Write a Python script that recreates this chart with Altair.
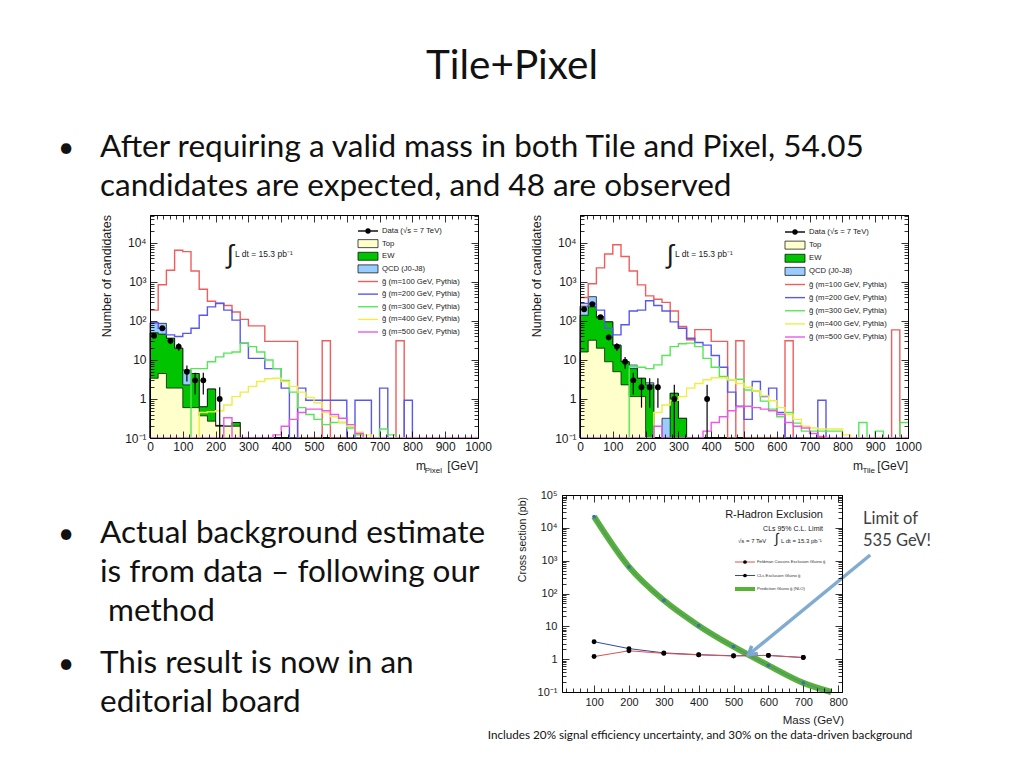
import altair as alt
import pandas as pd

W, H = 1008, 752
FLOOR = 0.05  # empty bins: below the axis floor, clamped to the frame

# ---------------- shared binning / labels ----------------
BIN_LO = list(range(0, 1000, 25))
BIN_END = 1000

SIG_LABELS = ["g̃ (m=100 GeV, Pythia)", "g̃ (m=200 GeV, Pythia)", "g̃ (m=300 GeV, Pythia)",
              "g̃ (m=400 GeV, Pythia)", "g̃ (m=500 GeV, Pythia)"]
SIG_COLORS = ["#f25c5c", "#5858ee", "#55e855", "#eeee44", "#ea5aea"]
BKG_LABELS = ["Top", "EW", "QCD (J0-J8)"]
BKG_COLORS = ["#ffffcc", "#00c400", "#99ccff"]
DATA_LABEL = "Data (√s = 7 TeV)"
LUMI = "L dt = 15.3 pb⁻¹"

# ---------------- m_Pixel panel ----------------
PIX_M100 = [190, 850, 2000, 6500, 6000, 1900, 650, 320, 280, 250,
            170, 110, 75, 75, 30, 30, 30, 30, 0, 0,
            0, 31, 0, 0, 0, 0, 0, 0, 0, 0,
            31, 0, 0, 0, 0, 0, 0, 0, 0, 0]
PIX_M200 = [90, 65, 44, 40, 48, 65, 140, 230, 285, 190,
            105, 27, 11, 11, 6, 6, 1.9, 0, 1.9, 0.93,
            0.93, 0.93, 0.93, 0.93, 0, 0.93, 0.93, 0, 1.9, 0,
            0, 0.93, 0, 0, 0, 0, 0, 0, 0, 0]
PIX_M300 = [0, 0, 0, 0, 0, 6, 6, 9, 12, 15,
            16, 27, 22, 16, 10, 6, 3, 1.5, 0.6, 0.4,
            0.3, 0.22, 0.25, 0.25, 0.18, 0.12, 0, 0, 0.17, 0.12,
            0, 0, 0, 0, 0, 0, 0, 0, 0, 0]
PIX_M400 = [0, 0, 0, 0, 0, 0, 0.45, 0.47, 0.5, 0.7,
            1.15, 1.5, 2.1, 2.8, 3.3, 3.4, 2.8, 2.1, 1.5, 1.1,
            0.8, 0.45, 0.35, 0.25, 0.2, 0.14, 0.12, 0, 0, 0,
            0, 0, 0, 0, 0, 0, 0, 0, 0, 0]
PIX_M500 = [0, 0, 0, 0, 0, 0, 0, 0, 0, 0.33,
            0, 0, 0, 0, 0.1, 0.12, 0.2, 0.3, 0.45, 0.55,
            0.55, 0.5, 0.4, 0.32, 0.22, 0.13, 0, 0, 0, 0,
            0, 0, 0, 0, 0, 0, 0, 0, 0, 0]
PIX_TOP = [3.4, 4.5, 1.9, 1.9, 0.6, 0.6, 0.37, 0.27, 0.2, 0.2,
           0.2, 0, 0, 0, 0, 0, 0, 0, 0, 0,
           0, 0, 0, 0, 0, 0, 0, 0, 0, 0,
           0, 0, 0, 0, 0, 0, 0, 0, 0, 0]
PIX_TOP_EW = [50, 46, 36, 20, 2.3, 4.5, 0.63, 1.8, 0.21, 0.2,
              0.25, 0, 0, 0, 0, 0, 0, 0, 0, 0,
              0, 0, 0, 0, 0, 0, 0, 0, 0, 0,
              0, 0, 0, 0, 0, 0, 0, 0, 0, 0]
PIX_TOTAL = [90, 87, 36, 20, 5.5, 4.5, 0.63, 1.8, 0.21, 0.2,
             0.25, 0, 0, 0, 0, 0, 0, 0, 0, 0,
             0, 0, 0, 0, 0, 0, 0, 0, 0, 0,
             0, 0, 0, 0, 0, 0, 0, 0, 0, 0]
PIX_DATA_X = [12.5, 37.5, 62.5, 87.5, 112.5, 137.5, 162.5, 212.5]
PIX_DATA_N = [42, 65, 31, 22, 5, 3, 3, 1]
PIX_DATA_LO = [35.5, 57, 25.4, 17.3, 2.8, 1.3, 1.3, 0]
PIX_DATA_HI = [48.5, 73, 36.6, 26.7, 7.2, 4.7, 4.7, 2]

# ---------------- m_Tile panel ----------------
TILE_M100 = [400, 900, 2300, 5200, 9000, 4500, 1900, 840, 440, 360,
             300, 180, 72, 33, 60, 60, 30, 30, 0, 31,
             0, 0, 0, 0, 0, 31, 0, 0, 0, 0,
             0, 0, 0, 0, 0, 0, 0, 0, 59, 0]
TILE_M200 = [280, 280, 190, 65, 44, 80, 180, 190, 330, 250,
             180, 95, 65, 36, 28, 24, 13, 6.5, 1.5, 0.65,
             0.3, 2.8, 1.15, 1.9, 0.45, 0, 0, 0, 0, 0.93,
             0, 0, 0, 0, 0, 0, 0, 0, 0, 0]
TILE_M300 = [0, 0, 0, 0, 0, 0, 7, 6.5, 6, 7.5,
             13, 22, 26, 27, 22, 11, 6.5, 3.8, 3.1, 3.2,
             1.7, 1.6, 0.88, 0.55, 0.35, 0.45, 0.24, 0.15, 0.15, 0.15,
             0.15, 0.15, 0, 0, 0.25, 0, 0.15, 0, 0, 0.25]
TILE_M400 = [0, 0, 0, 0, 0, 0, 0, 0, 0, 0.45,
             0.7, 0.93, 1.15, 1.9, 2.5, 3.1, 3.5, 3.5, 3.1, 2.5,
             2.0, 1.6, 1.2, 0.9, 0.6, 0.4, 0.3, 0.2, 0.18, 0.17,
             0.17, 0.17, 0.12, 0, 0, 0, 0, 0, 0, 0]
TILE_M500 = [0, 0, 0, 0, 0, 0, 0, 0, 0, 0.2,
             0, 0, 0, 0, 0.1, 0.15, 0.25, 0.35, 0.5, 0.63,
             0.65, 0.6, 0.55, 0.5, 0.4, 0.25, 0.2, 0.18, 0.13, 0.11,
             0, 0, 0, 0, 0, 0, 0, 0, 0, 0]
TILE_TOP = [16, 32, 20, 9, 5, 2.3, 1.15, 1.15, 0, 0,
            0, 0, 0, 0, 0, 0, 0, 0, 0, 0,
            0, 0, 0, 0, 0, 0, 0, 0, 0, 0,
            0, 0, 0, 0, 0, 0, 0, 0, 0, 0]
TILE_TOP_EW = [140, 230, 120, 95, 24, 9, 6, 3.4, 2.3, 0,
               0, 1.4, 0.32, 0, 0, 0, 0, 0, 0, 0,
               0, 0, 0, 0, 0, 0, 0, 0, 0, 0,
               0, 0, 0, 0, 0, 0, 0, 0, 0, 0]
TILE_TOTAL = [240, 420, 130, 95, 24, 9, 7.4, 3.4, 2.6, 0,
              0.32, 1.4, 0.32, 0, 0, 0, 0, 0, 0, 0,
              0, 0, 0, 0, 0, 0, 0, 0, 0, 0,
              0, 0, 0, 0, 0, 0, 0, 0, 0, 0]
TILE_DATA_X = [12.5, 37.5, 62.5, 87.5, 112.5, 137.5, 162.5, 187.5, 212.5, 237.5, 287.5, 387.5]
TILE_DATA_N = [200, 270, 125, 38, 22, 9, 3, 2, 2, 2, 1, 1]
TILE_DATA_LO = [186, 254, 114, 32, 17, 6, 1.3, 0.6, 0.6, 0.6, 0, 0]
TILE_DATA_HI = [214, 286, 136, 44, 27, 12, 4.7, 3.4, 3.4, 3.4, 2.3, 2.3]

# ---------------- R-hadron exclusion panel ----------------
MASS = [100, 200, 300, 400, 500, 600, 700]
FC_LIMIT = [1.2, 1.8, 1.5, 1.35, 1.25, 1.3, 1.12]
CLS_LIMIT = [3.4, 2.1, 1.55, 1.37, 1.27, 1.3, 1.12]
PRED_MASS = [100, 200, 300, 400, 500, 600, 700, 780]
PRED_XS = [22000, 650, 62, 10.5, 2.4, 0.65, 0.19, 0.1]
ARROW_MASS = [542, 892]
ARROW_XS = [1.34, 1490]
EXCL_LEGEND = ["Feldman Cousins Exclusion Gluino g̃", "CLs Exclusion Gluino g̃", "Prediction Gluino g̃ (NLO)"]

SUP_EXPR = ("datum.value < 0.5 ? '10⁻¹' : datum.value < 5 ? '1' : datum.value < 50 ? '10' : "
            "datum.value < 500 ? '10²' : datum.value < 5000 ? '10³' : datum.value < 50000 ? '10⁴' : '10⁵'")
BOX = "M-1,-0.4L1,-0.4L1,0.4L-1,0.4Z"
ARROW_HEAD = "M-0.75,1.3L0,0L0.75,1.3"
AXF = "Liberation Sans"
SLIDE_F = "Lato"
BODY = 31.5


def log_minor(lo, hi):
    out = []
    for d in range(-1, 6):
        for k in range(2, 10):
            v = k * 10 ** d
            if lo < v < hi:
                out.append(v)
    return out


def step_rows(vals, name):
    rows = [{"s": name, "x": BIN_LO[i], "v": (v if v > 0 else FLOOR)} for i, v in enumerate(vals)]
    rows.append({"s": name, "x": BIN_END, "v": rows[-1]["v"]})
    return rows


def frame(xs, ys, xmid, ymid, x0, x1, yt, yb, xmaj, xmin, ymaj, ymin, lsize, xpad, ypad):
    dummy = pd.DataFrame({"x": [xmid], "y": [ymid]})
    base = alt.Chart(dummy).mark_point(opacity=0)
    com = dict(grid=False, title=None, zindex=1, domainColor="black", domainWidth=1,
               tickColor="black", tickWidth=0.8)

    def ax(orient, offset, values, labels=False, domain=False, ticks=True, size=4, **kw):
        d = dict(com)
        d.update(orient=orient, offset=offset, values=values, labels=labels, domain=domain, ticks=ticks)
        if ticks:
            d["tickSize"] = size
        d.update(kw)
        return alt.Axis(**d)

    lab = dict(labelFont=AXF, labelFontSize=lsize, labelColor="#1a1a1a", labelOverlap=False, labelFlush=False)
    layers = [base.encode(
        x=alt.X("x:Q", scale=xs, axis=ax("bottom", yb - H, xmaj, labels=True, domain=True, ticks=False,
                                          labelPadding=xpad, format="d", **lab)),
        y=alt.Y("y:Q", scale=ys, axis=ax("left", -x0, ymaj, labels=True, domain=True, ticks=False,
                                          labelPadding=ypad, labelExpr=SUP_EXPR, **lab)))]
    for vx, vy, sz in [(xmaj, ymaj, 7), (xmin, ymin, 4)]:
        layers.append(base.encode(
            x=alt.X("x:Q", scale=xs, axis=ax("top", -yb, vx, size=sz)),
            y=alt.Y("y:Q", scale=ys, axis=ax("right", x0 - W, vy, size=sz))))
        layers.append(base.encode(
            x=alt.X("x:Q", scale=xs, axis=ax("bottom", yt - H, vx, size=sz, domain=True)),
            y=alt.Y("y:Q", scale=ys, axis=ax("left", -x1, vy, size=sz, domain=True))))
    return layers


def hist_panel(x0, sig, top, topew, tot, dx, dn, dlo, dhi, leg_x0, leg_r0, leg_r8):
    xs = alt.Scale(domain=[0, 1000], range=[x0, x0 + 328], nice=False, zero=False)
    ys = alt.Scale(type="log", domain=[0.1, 52000], range=[430, 207], nice=False, clamp=True)
    L = []
    for vals, col in [(tot, BKG_COLORS[2]), (topew, BKG_COLORS[1]), (top, BKG_COLORS[0])]:
        df = pd.DataFrame(step_rows(vals, "bkg"))
        df["base"] = FLOOR
        L.append(alt.Chart(df).mark_area(interpolate="step-after", fill=col, stroke="black",
                                         strokeWidth=0.7, opacity=1).encode(
            x=alt.X("x:Q", scale=xs, axis=None),
            y=alt.Y("v:Q", scale=ys, axis=None), y2="base:Q"))
    rows = []
    for lab_, vals in zip(SIG_LABELS, sig):
        rows += step_rows(vals, lab_)
    L.append(alt.Chart(pd.DataFrame(rows)).mark_line(interpolate="step-after", strokeWidth=1.4).encode(
        x=alt.X("x:Q", scale=xs, axis=None),
        y=alt.Y("v:Q", scale=ys, axis=None),
        color=alt.Color("s:N", scale=alt.Scale(domain=SIG_LABELS, range=SIG_COLORS), legend=None)))
    ddf = pd.DataFrame({"x": dx, "v": dn, "lo": [max(a, FLOOR) for a in dlo], "hi": dhi})
    L.append(alt.Chart(ddf).mark_rule(color="black", strokeWidth=1.2).encode(
        x=alt.X("x:Q", scale=xs, axis=None), y=alt.Y("lo:Q", scale=ys, axis=None), y2="hi:Q"))
    L.append(alt.Chart(ddf).mark_point(filled=True, color="black", size=34, opacity=1).encode(
        x=alt.X("x:Q", scale=xs, axis=None), y=alt.Y("v:Q", scale=ys, axis=None)))
    # legend
    ldf = pd.DataFrame({"r": list(range(9)), "t": [DATA_LABEL] + BKG_LABELS + SIG_LABELS,
                        "c": ["black"] + BKG_COLORS + SIG_COLORS})
    ly = alt.Y("r:Q", scale=alt.Scale(domain=[0, 8], range=[leg_r0, leg_r8], nice=False), axis=None)
    L.append(alt.Chart(ldf).mark_text(align="left", baseline="middle", font=AXF, fontSize=7.7,
                                      color="#222").encode(x=alt.value(leg_x0 + 24), y=ly, text="t:N"))
    L.append(alt.Chart(ldf[ldf.r.isin([0, 4, 5, 6, 7, 8])]).mark_rule(strokeWidth=1.4).encode(
        x=alt.value(leg_x0), x2=alt.value(leg_x0 + 20), y=ly, color=alt.Color("c:N", scale=None)))
    L.append(alt.Chart(ldf[ldf.r.isin([1, 2, 3])]).mark_point(
        shape=BOX, size=400, filled=True, stroke="black", strokeWidth=0.7, opacity=1).encode(
        x=alt.value(leg_x0 + 10), y=ly, fill=alt.Fill("c:N", scale=None)))
    L.append(alt.Chart(ldf[ldf.r == 0]).mark_point(filled=True, color="black", size=28, opacity=1).encode(
        x=alt.value(leg_x0 + 10), y=ly))
    xmin = [v for v in range(20, 1000, 20) if v % 100]
    L += frame(xs, ys, 500, 1, x0, x0 + 328, 207, 430, list(range(0, 1001, 100)), xmin,
               [0.1, 1, 10, 100, 1000, 10000], log_minor(0.1, 52000), 12, 3, 4)
    return L


def excl_panel():
    xs = alt.Scale(domain=[8, 811], range=[554, 834], nice=False, zero=False)
    ys = alt.Scale(type="log", domain=[0.1, 100000], range=[684, 487], nice=False)
    X = alt.X("m:Q", scale=xs, axis=None)
    Y = alt.Y("xs:Q", scale=ys, axis=None)
    L = []
    pred = pd.DataFrame({"m": PRED_MASS, "xs": PRED_XS})
    L.append(alt.Chart(pred).mark_line(interpolate="monotone", strokeWidth=6, color="#58b236",
                                       strokeCap="butt").encode(x=X, y=Y))
    L.append(alt.Chart(pred).mark_line(interpolate="monotone", strokeWidth=1, color="#4a7db0",
                                       opacity=0.8).encode(x=X, y=Y))
    L.append(alt.Chart(pred[pred.m <= 700]).mark_point(filled=True, size=14, color="#3b6fb0",
                                                       opacity=1).encode(x=X, y=Y))
    for vals, col in [(CLS_LIMIT, "#3048a8"), (FC_LIMIT, "#e0524f")]:
        df = pd.DataFrame({"m": MASS, "xs": vals})
        L.append(alt.Chart(df).mark_line(color=col, strokeWidth=1).encode(x=X, y=Y))
        L.append(alt.Chart(df).mark_point(filled=True, color="black", size=24, opacity=1).encode(x=X, y=Y))
    arrow = pd.DataFrame({"m": ARROW_MASS, "xs": ARROW_XS})
    L.append(alt.Chart(arrow).mark_line(color="#7aa6cf", strokeWidth=3.5, opacity=0.95).encode(x=X, y=Y))
    L.append(alt.Chart(arrow.iloc[[0]]).mark_point(shape=ARROW_HEAD, size=170, angle=231, filled=False,
                                                   color="#7aa6cf", strokeWidth=3.5, opacity=1).encode(x=X, y=Y))
    # legend
    ldf = pd.DataFrame({"r": [0, 1, 2], "t": EXCL_LEGEND, "c": ["#e0524f", "#3048a8", "#58b236"],
                        "w": [1, 1, 4]})
    ly = alt.Y("r:Q", scale=alt.Scale(domain=[0, 2], range=[554, 581], nice=False), axis=None)
    L.append(alt.Chart(ldf).mark_rule().encode(x=alt.value(727), x2=alt.value(747), y=ly,
                                                 color=alt.Color("c:N", scale=None),
                                                 strokeWidth=alt.StrokeWidth("w:Q", scale=None)))
    L.append(alt.Chart(ldf[ldf.r < 2]).mark_point(filled=True, color="black", size=14, opacity=1).encode(
        x=alt.value(737), y=ly))
    L.append(alt.Chart(ldf).mark_text(align="left", baseline="middle", font=AXF, fontSize=4.2,
                                      color="#333").encode(x=alt.value(749), y=ly, text="t:N"))
    xmin = [v for v in range(20, 811, 20) if v % 100]
    L += frame(xs, ys, 400, 1, 554, 834, 487, 684, list(range(100, 801, 100)), xmin,
               [0.1, 1, 10, 100, 1000, 10000, 100000], log_minor(0.1, 100000), 11, 4, 5)
    return L


def text_layer(rows, font, align, baseline="alphabetic", angle=None, color="black"):
    df = pd.DataFrame(rows, columns=["t", "px", "py", "fs"])
    mk = dict(align=align, baseline=baseline, font=font, color=color)
    if angle is not None:
        mk["angle"] = angle
    return alt.Chart(df).mark_text(**mk).encode(
        x=alt.X("px:Q", scale=None, axis=None), y=alt.Y("py:Q", scale=None, axis=None),
        text="t:N", size=alt.Size("fs:Q", scale=None))


layers = []
layers += hist_panel(142, [PIX_M100, PIX_M200, PIX_M300, PIX_M400, PIX_M500], PIX_TOP, PIX_TOP_EW, PIX_TOTAL,
                     PIX_DATA_X, PIX_DATA_N, PIX_DATA_LO, PIX_DATA_HI, 350, 223, 324)
layers += hist_panel(572, [TILE_M100, TILE_M200, TILE_M300, TILE_M400, TILE_M500], TILE_TOP, TILE_TOP_EW,
                     TILE_TOTAL, TILE_DATA_X, TILE_DATA_N, TILE_DATA_LO, TILE_DATA_HI, 777, 224, 329)
layers += excl_panel()

# slide text
layers.append(text_layer([["Tile+Pixel", 504, 71, 40.5],
                          ["Includes 20% signal efficiency uncertainty, and 30% on the data-driven background",
                           692, 731, 11.7]], SLIDE_F, "center", color="#111"))
layers.append(text_layer([["•", 58, 149, 28], ["•", 58, 535, 28], ["•", 58, 665, 28]], SLIDE_F, "center",
                         color="#111"))
layers.append(text_layer([
    ["After requiring a valid mass in both Tile and Pixel, 54.05", 92, 149, BODY],
    ["candidates are expected, and 48 are observed", 92, 188, BODY],
    ["Actual background estimate", 92, 535, BODY],
    ["is from data – following our", 92, 574, BODY],
    ["method", 100, 613, BODY],
    ["This result is now in an", 92, 665, BODY],
    ["editorial board", 92, 704, BODY],
], SLIDE_F, "left", color="#111"))
layers.append(text_layer([["Limit of", 855, 516, 16.5], ["535 GeV!", 855, 538, 16.5]], SLIDE_F, "left",
                         color="#404040"))

# plot annotations (left aligned)
layers.append(text_layer([
    [LUMI, 227, 249, 8.5], [LUMI, 667, 249, 8.5],
    ["√s = 7 TeV", 730, 535, 6], [LUMI, 773, 535, 6],
], AXF, "left", color="#1a1a1a"))
layers.append(text_layer([["∫", 222, 247, 26], ["∫", 662, 247, 26], ["∫", 769, 531, 14]], AXF, "center",
                         baseline="middle", color="#1a1a1a"))
layers.append(text_layer([
    ["[GeV]", 470, 462, 12], ["Pixel", 434, 465, 8], ["m", 418, 462, 12],
    ["[GeV]", 900, 462, 12], ["Tile", 867, 465, 8], ["m", 855, 462, 12],
    ["Mass (GeV)", 836, 716, 11.5],
    ["R-Hadron Exclusion", 815, 510, 11], ["CLs 95% C.L. Limit", 815, 523, 7],
], AXF, "right", color="#1a1a1a"))
layers.append(text_layer([
    ["Number of candidates", 99, 207, 12.5], ["Number of candidates", 529, 207, 12.5],
    ["Cross section (pb)", 515, 489, 10.5],
], AXF, "right", baseline="middle", angle=270, color="#1a1a1a"))

chart = alt.layer(*layers).resolve_scale(
    x="independent", y="independent", color="independent"
).properties(
    width=W, height=H, padding=0, autosize=alt.AutoSizeParams(type="none")
).configure_view(strokeWidth=0)

chart.save("out.html", embed_options={"renderer": "svg", "actions": False})
